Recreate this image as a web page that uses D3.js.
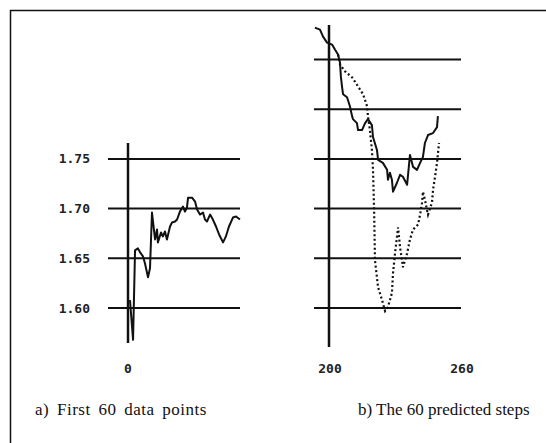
<!DOCTYPE html>
<html>
<head>
<meta charset="utf-8">
<script src="https://cdn.jsdelivr.net/npm/d3@7"></script>
<style>
    body { margin: 0; background: #fff; }
    svg { display: block; }
</style>
</head>
<body>
<svg id="chart" width="546" height="443"></svg>
<script>
// y levels of the horizontal rules
var leftTicks = [1.60, 1.65, 1.70, 1.75];
var rightTicks = [1.60, 1.65, 1.70, 1.75, 1.80, 1.85];
var leftTickLabels = ["1.60", "1.65", "1.70", "1.75"];
var leftXTicks = [0];
var rightXTicks = [200, 260];
var captions = ["a) First 60 data points", "b) The 60 predicted steps"];

// a) first data points  [step, value]
var firstSteps = [0.9, 2.3, 3.2, 4.5, 5.5, 6.8, 7.7, 9.1, 10.0, 10.9, 12.3, 13.2, 13.6, 15.0, 15.9, 16.8, 17.7, 19.1, 20.0, 21.4,
    22.3, 23.6, 25.0, 25.9, 26.8, 27.3, 29.1, 30.5, 31.4, 32.7, 34.1, 35.0, 35.9, 37.3, 38.6, 40.0, 41.4, 43.2, 44.5, 45.9,
    47.7, 49.1, 50.9];
var firstValues = [1.608, 1.568, 1.658, 1.660, 1.656, 1.652, 1.645, 1.631, 1.640, 1.696, 1.669, 1.679, 1.666, 1.676, 1.672, 1.677, 1.669, 1.682, 1.686, 1.687,
    1.689, 1.697, 1.702, 1.697, 1.701, 1.711, 1.711, 1.707, 1.699, 1.694, 1.696, 1.689, 1.687, 1.694, 1.689, 1.682, 1.674, 1.666, 1.672, 1.682,
    1.691, 1.692, 1.689];

// b) actual series
var actualSteps = [193.6, 195.9, 197.3, 199.1, 201.4, 202.7, 204.1, 205.0, 205.4, 205.9, 206.4, 208.2, 209.5, 210.5, 210.9, 212.7, 213.2, 215.0,
    216.4, 217.7, 219.5, 220.0, 221.8, 222.3, 224.5, 226.4, 226.8, 227.7, 228.6, 229.1, 230.9, 232.3, 233.6, 235.5, 236.8, 238.2,
    240.0, 241.4, 242.7, 243.6, 245.0, 247.3, 249.1, 249.5];
var actualValues = [1.882, 1.880, 1.873, 1.867, 1.865, 1.860, 1.855, 1.847, 1.833, 1.823, 1.815, 1.812, 1.803, 1.793, 1.790, 1.786, 1.779, 1.779,
    1.786, 1.790, 1.784, 1.772, 1.759, 1.749, 1.746, 1.739, 1.729, 1.736, 1.729, 1.717, 1.726, 1.734, 1.732, 1.724, 1.754, 1.742,
    1.739, 1.746, 1.752, 1.766, 1.774, 1.776, 1.782, 1.793];

// b) predicted series (dotted)
var predSteps = [204.1, 205.0, 207.3, 210.5, 213.2, 215.5, 217.3, 217.7, 218.6, 219.5, 220.0, 220.5, 220.9, 222.3, 224.1, 225.5, 226.8,
    228.6, 229.1, 230.0, 231.4, 232.3, 233.2, 233.6, 235.5, 236.8, 238.2, 240.5, 241.4, 242.3, 242.7, 243.6, 244.5, 245.0,
    246.8, 247.3, 248.2, 249.1, 250.0];
var predValues = [1.855, 1.845, 1.838, 1.832, 1.823, 1.815, 1.803, 1.793, 1.779, 1.759, 1.739, 1.699, 1.648, 1.621, 1.608, 1.597, 1.601,
    1.615, 1.635, 1.655, 1.681, 1.661, 1.648, 1.641, 1.655, 1.669, 1.679, 1.684, 1.694, 1.706, 1.717, 1.709, 1.699, 1.694,
    1.706, 1.719, 1.732, 1.746, 1.766];

var svg = d3.select("#chart");

var y = d3.scaleLinear().domain([1.60, 1.85]).range([308, 59.5]);
var xa = d3.scaleLinear().domain([0, 60]).range([128, 260]);
var xb = d3.scaleLinear().domain([200, 260]).range([329, 461]);

// frame (only top and left edges visible)
svg.append("path")
    .attr("d", "M10.5,443 L10.5,10.5 L546,10.5")
    .attr("fill", "none")
    .attr("stroke", "#111")
    .attr("stroke-width", 1.5);

var line = d3.line()
    .x(function (d) { return d[0]; })
    .y(function (d) { return d[1]; });

function pts(xs, ys, xscale) {
    return xs.map(function (v, i) { return [xscale(v), y(ys[i])]; });
}

function panel(g, ticks, x0, x1, axisX, axisTop, axisBottom) {
    g.selectAll("line.rule")
        .data(ticks)
        .enter()
        .append("line")
        .attr("class", "rule")
        .attr("x1", x0)
        .attr("x2", x1)
        .attr("y1", function (d) { return y(d); })
        .attr("y2", function (d) { return y(d); })
        .attr("stroke", "#111")
        .attr("stroke-width", 2);

    g.append("line")
        .attr("x1", axisX).attr("x2", axisX)
        .attr("y1", axisTop).attr("y2", axisBottom)
        .attr("stroke", "#111")
        .attr("stroke-width", 2.5);
}

var ga = svg.append("g").attr("id", "panel_a");
panel(ga, leftTicks, 108, 240, xa(0), 143, 343);

ga.append("path")
    .attr("d", line(pts(firstSteps, firstValues, xa)))
    .attr("fill", "none")
    .attr("stroke", "#111")
    .attr("stroke-width", 2)
    .attr("stroke-linejoin", "round");

ga.selectAll("text.ylab")
    .data(leftTicks)
    .enter()
    .append("text")
    .attr("class", "ylab")
    .attr("x", 90)
    .attr("y", function (d) { return y(d); })
    .attr("dy", "0.35em")
    .attr("text-anchor", "end")
    .style("font-family", "DejaVu Sans Mono")
    .style("font-weight", "bold")
    .style("font-size", "13px")
    .attr("fill", "#222")
    .text(function (d, i) { return leftTickLabels[i]; });

ga.selectAll("text.xlab")
    .data(leftXTicks)
    .enter()
    .append("text")
    .attr("class", "xlab")
    .attr("x", function (d) { return xa(d); })
    .attr("y", 368)
    .attr("dy", "0.35em")
    .attr("text-anchor", "middle")
    .style("font-family", "DejaVu Sans Mono")
    .style("font-weight", "bold")
    .style("font-size", "13px")
    .attr("fill", "#222")
    .text(function (d) { return d; });

var gb = svg.append("g").attr("id", "panel_b");
panel(gb, rightTicks, 314, 461, xb(200), 25, 347);

gb.append("path")
    .attr("d", line(pts(predSteps, predValues, xb)))
    .attr("fill", "none")
    .attr("stroke", "#111")
    .attr("stroke-width", 2.2)
    .attr("stroke-dasharray", "2,2.5");

gb.append("path")
    .attr("d", line(pts(actualSteps, actualValues, xb)))
    .attr("fill", "none")
    .attr("stroke", "#111")
    .attr("stroke-width", 2)
    .attr("stroke-linejoin", "round");

gb.selectAll("text.xlab")
    .data(rightXTicks)
    .enter()
    .append("text")
    .attr("class", "xlab")
    .attr("x", function (d) { return xb(d) + 1; })
    .attr("y", 368)
    .attr("dy", "0.35em")
    .attr("text-anchor", "middle")
    .style("font-family", "DejaVu Sans Mono")
    .style("font-weight", "bold")
    .style("font-size", "13px")
    .attr("fill", "#222")
    .text(function (d) { return d; });

svg.selectAll("text.caption")
    .data(captions)
    .enter()
    .append("text")
    .attr("class", "caption")
    .attr("x", function (d, i) { return i == 0 ? 35 : 358; })
    .attr("y", 415)
    .style("font-family", "Liberation Serif")
    .style("font-size", "17px")
    .style("letter-spacing", function (d, i) { return i == 0 ? "0.5px" : "0px"; })
    .style("word-spacing", function (d, i) { return i == 0 ? "3px" : "0px"; })
    .attr("fill", "#111")
    .text(function (d) { return d; });
</script>
</body>
</html>
